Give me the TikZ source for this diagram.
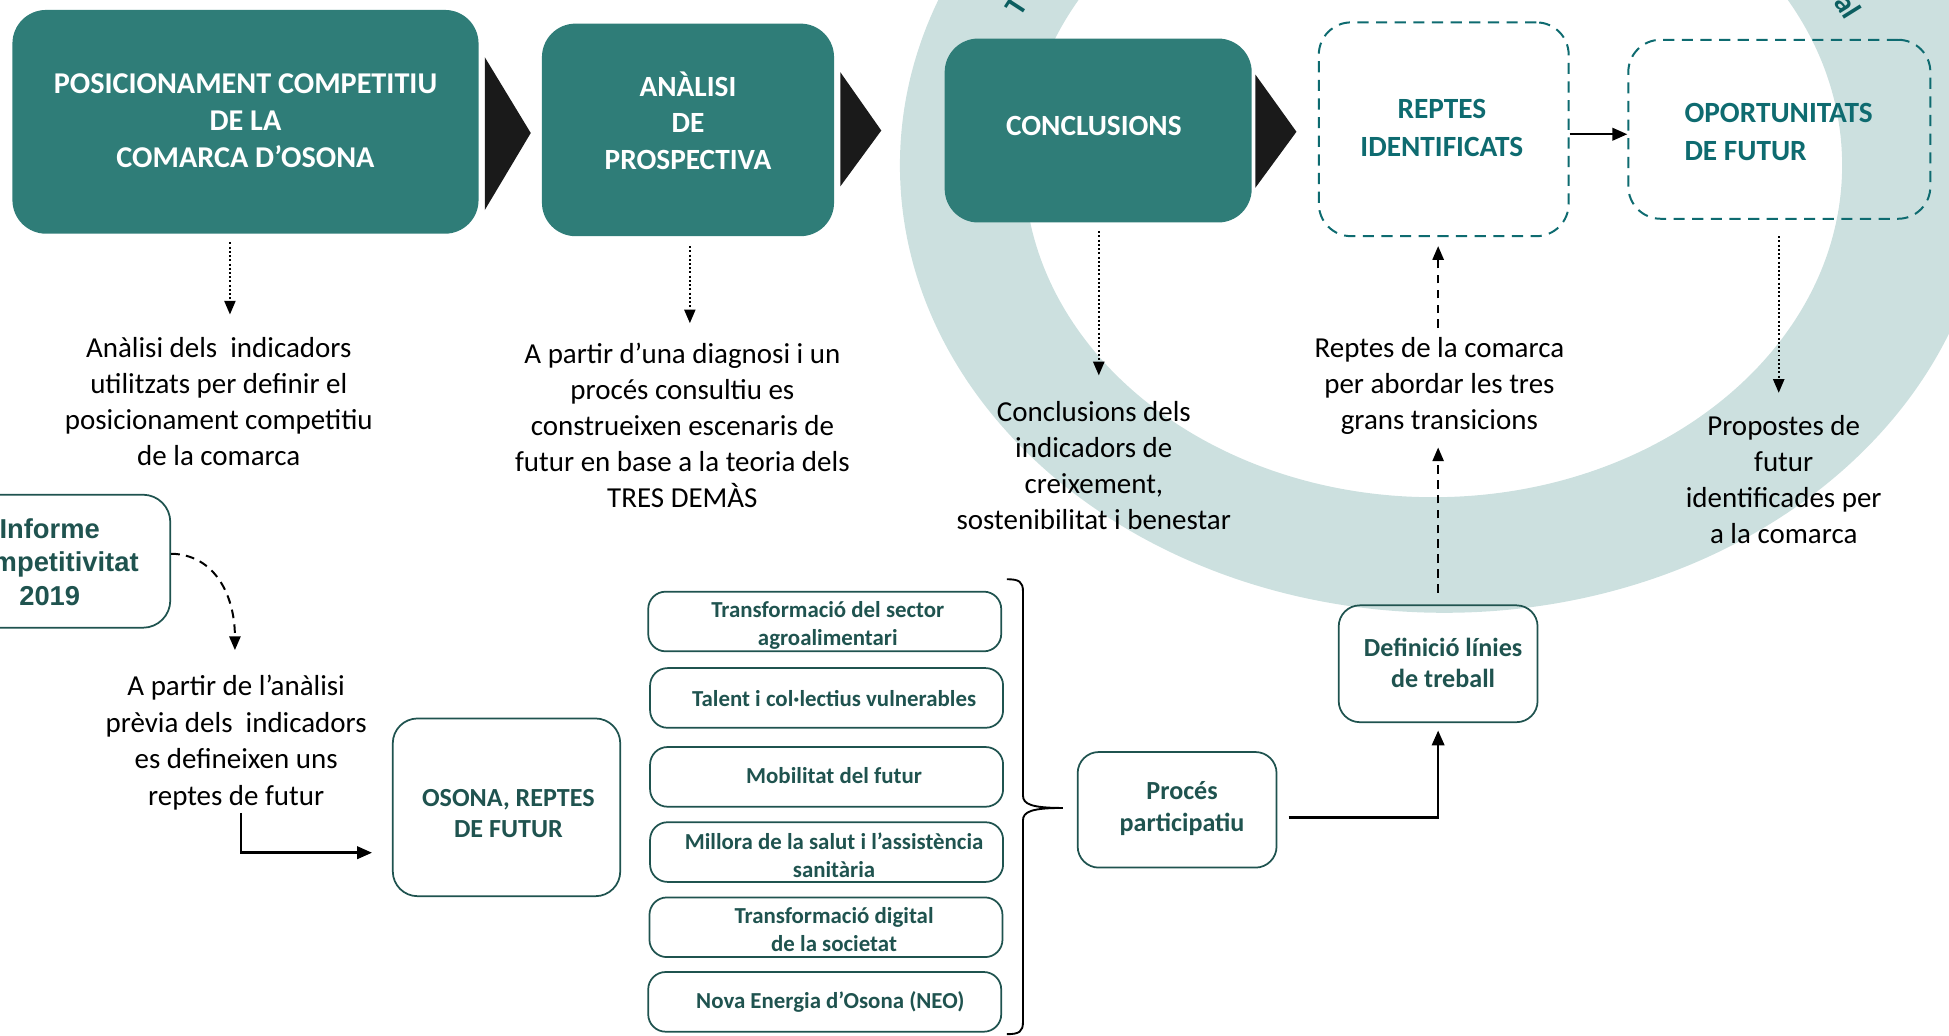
\documentclass[tikz,border=0pt]{standalone}
\usepackage{fontspec}
\setmainfont{Carlito}
\newfontfamily\arialf{Liberation Sans}
\usetikzlibrary{arrows.meta,calc}
\definecolor{teal1}{HTML}{2F7D78}
\definecolor{ringc}{HTML}{CCE0DF}
\definecolor{dteal}{HTML}{0E6B70}
\definecolor{dgreen}{HTML}{1F534F}
\definecolor{chev}{HTML}{1A1A1A}
\definecolor{ringtxt}{HTML}{0B5E60}
\tikzset{
  topbox/.style={rectangle, rounded corners=27pt, fill=teal1, draw=none, inner sep=0pt},
  topfont/.style={text=white, font=\bfseries\fontsize{23.6}{29.5}\selectfont, align=center, inner sep=0pt},
  dashbox/.style={rectangle, rounded corners=26pt, draw=dteal, line width=1.6pt, dash pattern=on 9pt off 6pt, inner sep=0pt},
  dashfont/.style={text=dteal, font=\bfseries\fontsize{23.6}{30.5}\selectfont, inner sep=0pt},
  plainbox/.style={rectangle, rounded corners=20pt, draw=dgreen, line width=1.4pt, inner sep=0pt},
  smallbox/.style={rectangle, rounded corners=14pt, draw=dgreen, line width=1.4pt, inner sep=0pt, minimum width=284pt, minimum height=48pt},
  boxfont/.style={text=dgreen, font=\bfseries\fontsize{21}{25}\selectfont, align=center, inner sep=0pt},
  smallfont/.style={text=dgreen, font=\bfseries\fontsize{18.4}{22.5}\selectfont, align=center, inner sep=0pt},
  bodytext/.style={text=black, font=\fontsize{23.3}{29}\selectfont, align=center, inner sep=0pt},
  ringtext/.style={text=ringtxt, font=\bfseries\fontsize{24}{29}\selectfont, inner sep=0pt},
  tipd/.style={-{Triangle[length=11pt,width=9pt]}},
  dotarrow/.style={tipd, line width=1.4pt, dash pattern=on 1.6pt off 1.8pt},
  dasharrow/.style={tipd, line width=1.6pt, dash pattern=on 7pt off 5pt},
  solidarrow/.style={-{Triangle[length=12pt,width=10pt]}, line width=2pt},
}
\begin{document}
\begin{tikzpicture}[x=1pt,y=-1pt]
\useasboundingbox (0,0) rectangle (1568,833);
\begin{scope}
\clip (0,0) rectangle (1568,833);
% ring
\fill[ringc, even odd rule] (1162,133) ellipse [x radius=438pt, y radius=360pt]
                            (1153,133) ellipse [x radius=329pt, y radius=267pt];
\node[ringtext, rotate=57] (rt1) at (818,5) {T};
\node[ringtext, rotate=-58] (rt2) at (1487,5) {al};

% top boxes
\node[topbox, minimum width=375pt, minimum height=180pt] (A) at (197.5,98) {};
\node[topfont, font=\bfseries\fontsize{24.3}{29.5}\selectfont] (At) at (197.5,97) {POSICIONAMENT COMPETITIU\\DE LA\\COMARCA D’OSONA};
\node[topbox, minimum width=235pt, minimum height=171pt] (B) at (553.5,104.5) {};
\node[topfont] (Bt) at (553.5,97) {ANÀLISI\\DE\\PROSPECTIVA};
\node[topbox, minimum width=247pt, minimum height=148pt] (C) at (883.5,105) {};
\node[topfont] (Ct) at (880,101) {CONCLUSIONS};
\node[dashbox, minimum width=201pt, minimum height=172pt] (D) at (1161.5,104) {};
\node[dashfont, align=center] (Dt) at (1160,103) {REPTES\\IDENTIFICATS};
\node[dashbox, minimum width=243pt, minimum height=144pt] (E) at (1431.5,104) {};
\node[dashfont, align=left, anchor=west] (Et) at (1355,106) {OPORTUNITATS\\DE FUTUR};

% chevrons
\fill[chev] (390,46) -- (427,107) -- (390,169) -- cycle;
\fill[chev] (676,58) -- (709,105) -- (676,150) -- cycle;
\fill[chev] (1010,60) -- (1043,106) -- (1010,151) -- cycle;

\draw[solidarrow] ([yshift=-4pt]D.east) -- ([yshift=-4pt]E.west);

% texts under top boxes
\node[bodytext] (T1) at (176,323) {Anàlisi dels\ \ indicadors\\utilitzats per definir el\\posicionament competitiu\\de la comarca};
\node[bodytext] (T2) at (549,342.5) {A partir d’una diagnosi i un\\procés consultiu es\\construeixen escenaris de\\futur en base a la teoria dels\\TRES DEMÀS};
\node[bodytext] (T3) at (880,374.5) {Conclusions dels\\indicadors de\\creixement,\\sostenibilitat i benestar};
\node[bodytext] (T4) at (1158,310.5) {Reptes de la comarca\\per abordar les tres\\grans transicions};
\node[bodytext] (T5) at (1435,385.5) {Propostes de\\futur\\identificades per\\a la comarca};
\node[bodytext, font=\fontsize{23.3}{29.4}\selectfont] (T6) at (190,597.5) {A partir de l’anàlisi\\prèvia dels\ \ indicadors\\es defineixen uns\\reptes de futur};

% dotted arrows
\coordinate (a1s) at (185,195); \coordinate (a1e) at (185,253);
\coordinate (a2s) at (555,198); \coordinate (a2e) at (555,260);
\coordinate (a3s) at (884,186); \coordinate (a3e) at (884,302);
\coordinate (a5s) at (1431,190); \coordinate (a5e) at (1431,316);
\draw[dotarrow] (a1s) -- (a1e);
\draw[dotarrow] (a2s) -- (a2e);
\draw[dotarrow] (a3s) -- (a3e);
\draw[dotarrow] (a5s) -- (a5e);

% Informe box
\node[plainbox, rounded corners=22pt, minimum width=194pt, minimum height=107pt] (I) at (40,451.5) {};
\node[text=dgreen, font=\arialf\bfseries\fontsize{22}{27}\selectfont, align=center, inner sep=0pt] (It) at (40,452) {Informe\\competitivitat\\2019};
\coordinate (ie) at (189,523);
\draw[dasharrow] ([yshift=6pt]I.east) .. controls (172,446) and (189,478) .. (ie);

% elbow to OSONA
\node[plainbox, minimum width=183pt, minimum height=143pt] (F) at (407.5,649.5) {};
\node[boxfont] (Ft) at (409,654.5) {OSONA, REPTES\\DE FUTUR};
\coordinate (e1) at (194,654);
\draw[solidarrow] (e1) |- ([xshift=-16pt]F.west |- 0,686);

% small boxes
\node[smallbox] (S1) at (663.5,500) {};
\node[smallfont] (S1t) at (666,503) {Transformació del sector\\agroalimentari};
\node[smallbox] (S2) at (665,561.5) {};
\node[smallfont] (S2t) at (671,562) {Talent i col·lectius vulnerables};
\node[smallbox] (S3) at (665,625) {};
\node[smallfont] (S3t) at (671,624) {Mobilitat del futur};
\node[smallbox] (S4) at (665,685.5) {};
\node[smallfont] (S4t) at (671,688) {Millora de la salut i l’assistència\\sanitària};
\node[smallbox] (S5) at (664.5,746) {};
\node[smallfont] (S5t) at (671,748) {Transformació digital\\de la societat};
\node[smallbox] (S6) at (663.5,806) {};
\node[smallfont] (S6t) at (668,806) {Nova Energia d’Osona (NEO)};

% brace
\draw[line width=1.5pt] (810,466) .. controls (820,466) and (823,468) .. (823,476)
  -- (823,640) .. controls (823,647) and (830,650) .. (855,650)
  .. controls (830,650) and (823,653) .. (823,660) -- (823,822)
  .. controls (823,830) and (820,832) .. (810,832);

% Proces participatiu
\node[plainbox, rounded corners=17pt, minimum width=160pt, minimum height=93pt] (G) at (947,651.5) {};
\node[boxfont] (Gt) at (951,650.5) {Procés\\participatiu};
% Definicio linies
\node[plainbox, rounded corners=17pt, minimum width=160pt, minimum height=94pt] (H) at (1157,534) {};
\node[boxfont] (Ht) at (1161,533.5) {Definició línies\\de treball};

\draw[solidarrow] ([xshift=9pt,yshift=-6pt]G.east) -| ([yshift=-6pt]H.south);

% dashed arrows up
\coordinate (h1) at (1157,477); \coordinate (h2) at (1157,360);
\coordinate (h3) at (1157,264); \coordinate (h4) at (1157,198);
\draw[dasharrow] (h1) -- (h2);
\draw[dasharrow] (h3) -- (h4);
\end{scope}
\end{tikzpicture}
\end{document}
